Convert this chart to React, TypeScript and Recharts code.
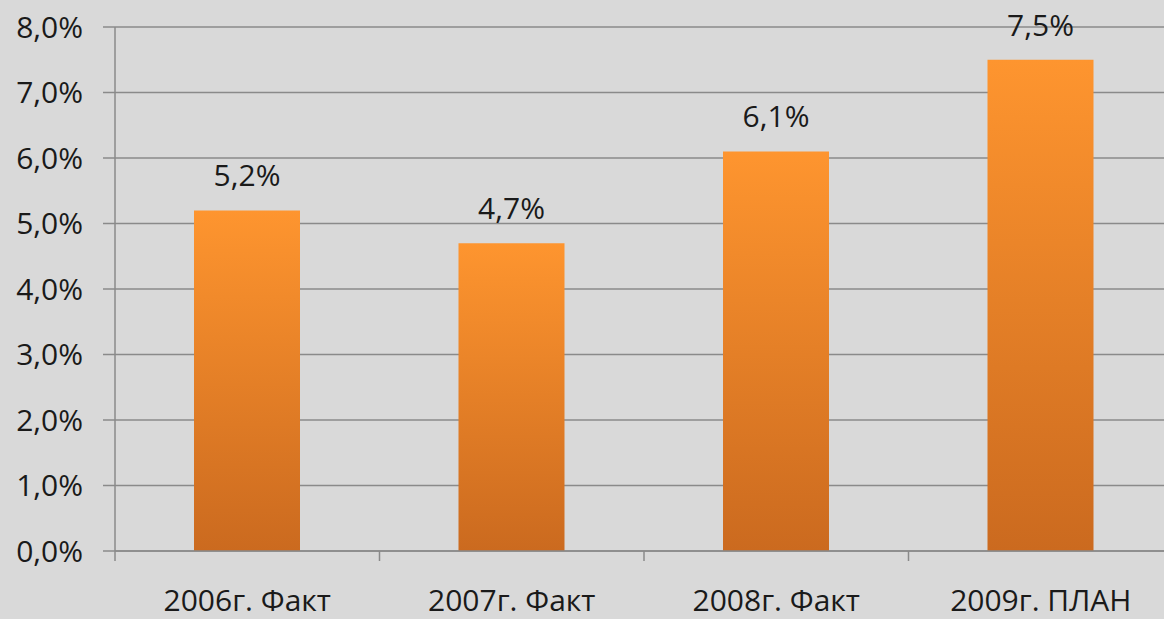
import React from 'react';
import { BarChart, Bar, XAxis, YAxis, CartesianGrid, LabelList } from 'recharts';

const categories = ['2006г. Факт', '2007г. Факт', '2008г. Факт', '2009г. ПЛАН'];
const values = [5.2, 4.7, 6.1, 7.5];
const yTicks = [0, 1, 2, 3, 4, 5, 6, 7, 8];

const data = categories.map((c, i) => ({ name: c, value: values[i] }));

const fmt = (v: number) => v.toFixed(1).replace('.', ',') + '%';

const FONT = '"Open Sans", sans-serif';
const GRID = '#8a8a8a';
const TEXT = '#1a1a1a';

const XTick = (props: any) => {
  const { x, y, payload } = props;
  const off = payload && payload.offset != null ? payload.offset : 0;
  return (
    <g>
      <line x1={x - off} x2={x - off} y1={y} y2={y + 10} stroke={GRID} strokeWidth={1.5} />
      <text
        x={x}
        y={y + 39}
        dy="0.71em"
        textAnchor="middle"
        fill={TEXT}
        fontSize={30}
        fontFamily={FONT}
      >
        {payload.value}
      </text>
    </g>
  );
};

export default function App() {
  return (
    <div
      style={{
        position: 'fixed',
        left: 0,
        top: 0,
        width: 1164,
        height: 619,
        overflow: 'hidden',
        background: '#d9d9d9',
      }}
    >
      <BarChart
        width={1200}
        height={619}
        data={data}
        margin={{ top: 27, right: 27, bottom: 0, left: 0 }}
        barSize={106}
      >
        <defs>
          <linearGradient id="barGrad" x1="0" y1="0" x2="0" y2="1">
            <stop offset="0%" stopColor="#fe952f" />
            <stop offset="100%" stopColor="#cb6a1f" />
          </linearGradient>
        </defs>
        <CartesianGrid vertical={false} stroke={GRID} strokeWidth={1.5} />
        <XAxis
          dataKey="name"
          height={68}
          axisLine={{ stroke: GRID, strokeWidth: 1.5 }}
          tickLine={false}
          tickSize={0}
          tickMargin={0}
          tick={<XTick />}
          interval={0}
        />
        <YAxis
          width={115}
          domain={[0, 8]}
          ticks={yTicks}
          tickFormatter={fmt}
          axisLine={{ stroke: GRID, strokeWidth: 1.5 }}
          tickLine={{ stroke: GRID, strokeWidth: 1.5 }}
          tickSize={12}
          tickMargin={20}
          tick={{ fill: TEXT, fontSize: 30, fontFamily: FONT }}
        />
        <Bar dataKey="value" fill="url(#barGrad)" isAnimationActive={false}>
          <LabelList
            dataKey="value"
            position="top"
            offset={24}
            formatter={(v: any) => fmt(Number(v))}
            style={{ fill: TEXT, fontSize: 30, fontFamily: FONT }}
          />
        </Bar>
      </BarChart>
    </div>
  );
}
